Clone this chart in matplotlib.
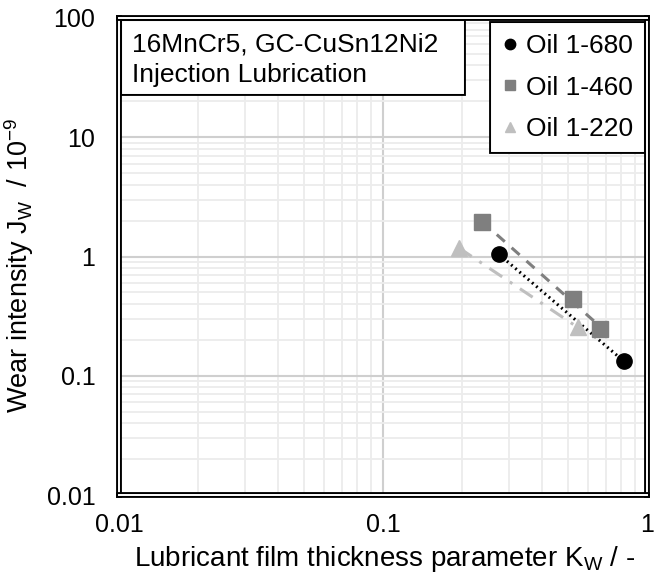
import numpy as np
import matplotlib
matplotlib.use("Agg")
import matplotlib.pyplot as plt
import matplotlib.patheffects as pe
from matplotlib.patches import Rectangle
from matplotlib.ticker import LogLocator, FixedFormatter, FixedLocator, NullFormatter

plt.rcParams['font.family'] = ['Liberation Sans', 'DejaVu Sans']
plt.rcParams['mathtext.fontset'] = 'custom'
plt.rcParams['mathtext.rm'] = 'Liberation Sans'

# data
labels = ["Oil 1-680", "Oil 1-460", "Oil 1-220"]
kw_680 = [0.274, 0.818]
jw_680 = [1.05, 0.132]
kw_460 = [0.237, 0.526, 0.661]
jw_460 = [1.94, 0.441, 0.247]
kw_220 = [0.194, 0.546]
jw_220 = [1.18, 0.255]

x_ticks = [0.01, 0.1, 1]
x_ticklabels = ["0.01", "0.1", "1"]
y_ticks = [0.01, 0.1, 1, 10, 100]
y_ticklabels = ["0.01", "0.1", "1", "10", "100"]

colors = ["black", "#7f7f7f", "#bfbfbf"]
markers = ["o", "s", "^"]
trend_styles = [(0, (0.6, 1.2)), (0, (3.5, 3.0)), (0, (5, 3, 1, 3))]

double_line = [pe.Stroke(linewidth=4.2, foreground='black'),
               pe.Stroke(linewidth=1.4, foreground='white')]

fig = plt.figure(figsize=(6.59, 5.75), dpi=100)
ax = fig.add_axes([0.1806, 0.1391, 0.8012, 0.8296])
ax.set_xscale('log')
ax.set_yscale('log')
ax.set_xlim(0.01, 1)
ax.set_ylim(0.01, 100)

# grid
ax.xaxis.set_minor_locator(LogLocator(base=10, subs=np.arange(2, 10)))
ax.yaxis.set_minor_locator(LogLocator(base=10, subs=np.arange(2, 10)))
ax.xaxis.set_minor_formatter(NullFormatter())
ax.yaxis.set_minor_formatter(NullFormatter())
ax.grid(which='minor', color='#ececec', linewidth=1.3)
ax.grid(which='major', color='#cfcfcf', linewidth=1.5)
ax.set_axisbelow(True)

ax.xaxis.set_major_locator(FixedLocator(x_ticks))
ax.xaxis.set_major_formatter(FixedFormatter(x_ticklabels))
ax.yaxis.set_major_locator(FixedLocator(y_ticks))
ax.yaxis.set_major_formatter(FixedFormatter(y_ticklabels))
ax.tick_params(which='both', length=0, labelsize=18)
ax.tick_params(axis='y', pad=17)
ax.tick_params(axis='x', pad=13)

series = [(kw_680, jw_680), (kw_460, jw_460), (kw_220, jw_220)]
handles = []
for (xs, ys), c, m, ls, lab in zip(series, colors, markers, trend_styles, labels):
    xs = np.array(xs)
    ys = np.array(ys)
    # power-law trendline like the spreadsheet one
    k, b = np.polyfit(np.log10(xs), np.log10(ys), 1)
    xt = np.array([xs.min(), xs.max()])
    yt = 10 ** (b + k * np.log10(xt))
    ax.plot(xt, yt, color=c, linestyle=ls, linewidth=2.2, zorder=3)
    h, = ax.plot(xs, ys, linestyle='none', marker=m, markersize=11,
                 color=c, label=lab, zorder=4)
    handles.append(h)

# double-line frame
for sp in ax.spines.values():
    sp.set_path_effects(double_line)

leg = ax.legend(handles=handles, loc='upper right', bbox_to_anchor=(0.992, 0.987),
                borderaxespad=0, fontsize=19, markerscale=0.68, handlelength=0.6,
                handletextpad=0.3, labelspacing=0.66, borderpad=0.38,
                fancybox=False, framealpha=1, edgecolor='black')
leg.get_frame().set_linewidth(1.5)
leg.get_frame().set_path_effects(double_line)

# annotation box
box = Rectangle((0.0076, 0.843), 0.644, 0.1486, transform=ax.transAxes,
                facecolor='white', edgecolor='black', linewidth=1.5, zorder=5)
box.set_path_effects(double_line)
ax.add_patch(box)
ax.text(0.0246, 0.929, "16MnCr5, GC-CuSn12Ni2", transform=ax.transAxes,
        fontsize=19, va='baseline', ha='left', zorder=6)
ax.text(0.0246, 0.866, "Injection Lubrication", transform=ax.transAxes,
        fontsize=19, va='baseline', ha='left', zorder=6)

ax.set_xlabel(r"Lubricant film thickness parameter K$_\mathregular{W}$ / -",
              fontsize=20)
ax.xaxis.set_label_coords(0.504, -0.103)
ax.set_ylabel(r"Wear intensity J$_\mathregular{W}$  / 10$^\mathregular{-9}$",
              fontsize=19.5)
ax.yaxis.set_label_coords(-0.158, 0.482)

fig.savefig("out.png", dpi=100)
